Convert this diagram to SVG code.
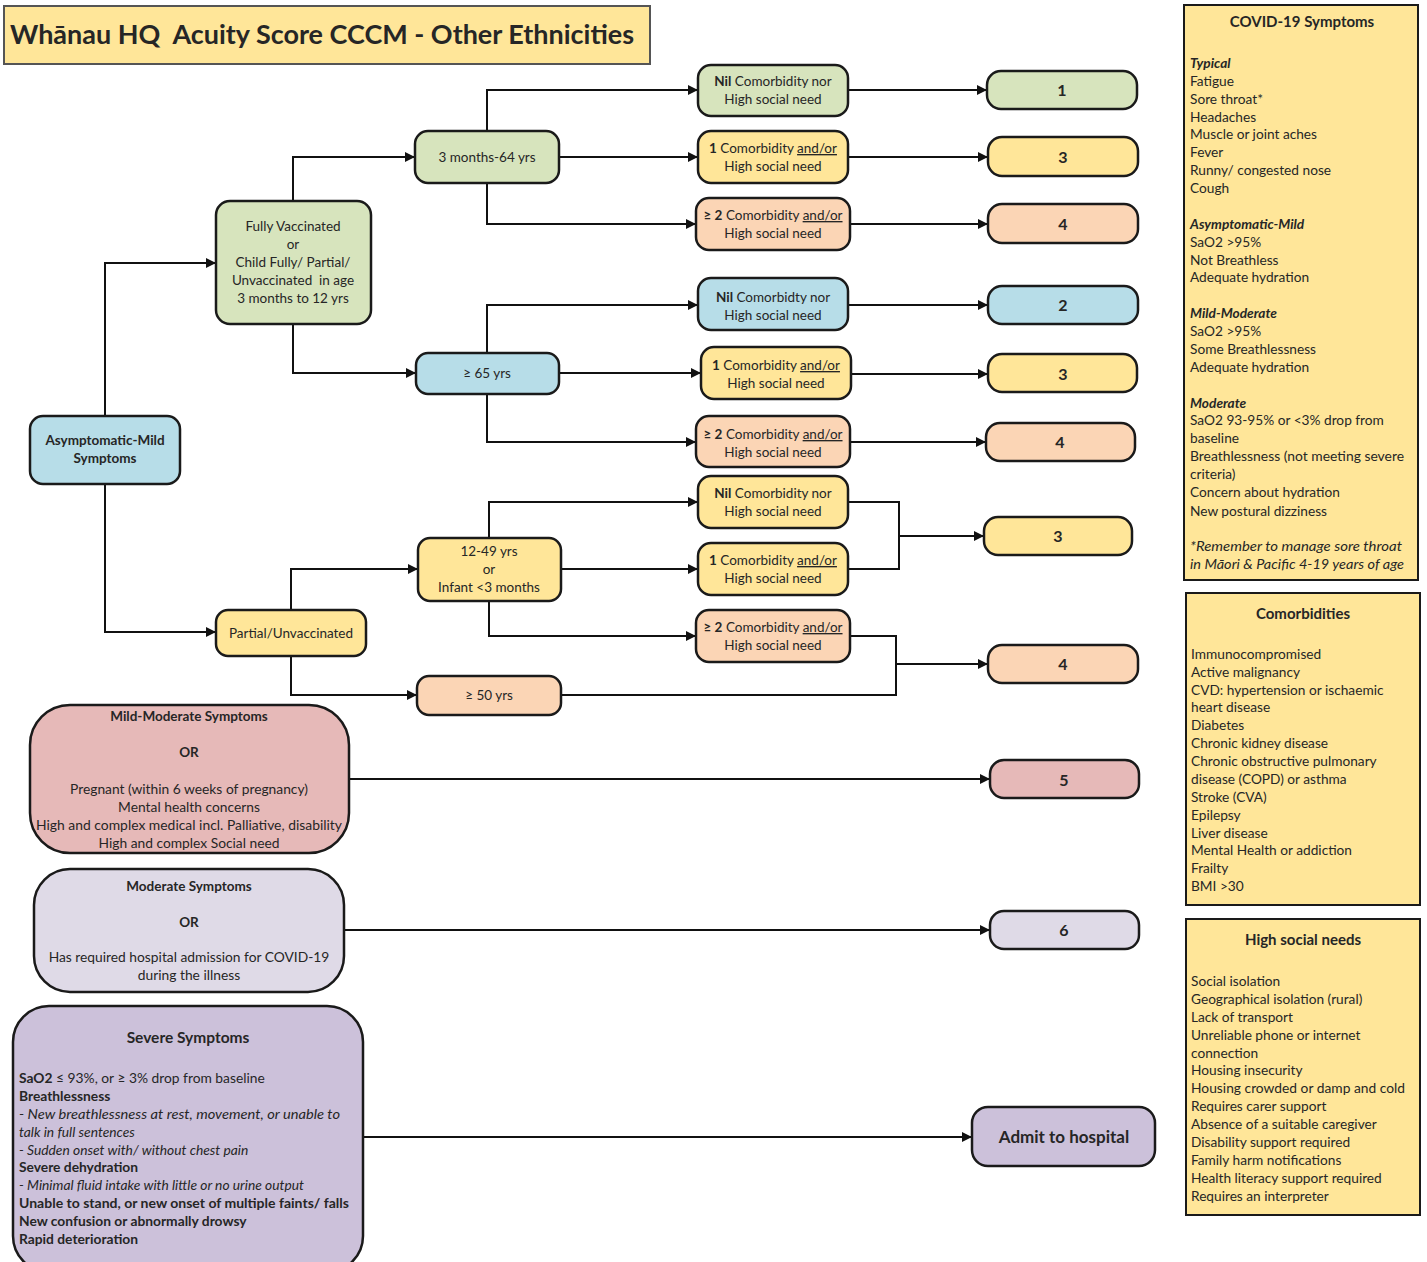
<svg xmlns="http://www.w3.org/2000/svg" width="1427" height="1262" viewBox="0 0 1427 1262">
<style>
text{font-family:Lato,"Liberation Sans",sans-serif;fill:#262626;font-size:13.5px}
.c{text-anchor:middle}
.b{font-weight:bold}
.n{stroke:#1a1a1a;stroke-width:2.5}
.g{fill:#D7E4BD}.y{fill:#FFE699}.p{fill:#FBD5B5}.bl{fill:#B7DDE8}.pk{fill:#E6B9B8}.lv{fill:#DFDAE7}.pu{fill:#CCC1DA}
.sc{font-size:16px;font-weight:bold}
.pn{fill:#FFE699;stroke:#1a1a1a;stroke-width:2}
.pt{font-size:13.7px}
.bx{font-size:13.8px}
.u{text-decoration:underline}
.bi{font-weight:bold;font-style:italic}
.it{font-style:italic}
#conn path{fill:none;stroke:#111;stroke-width:2}
</style>
<defs>
<marker id="ah" viewBox="0 0 10 10" refX="10" refY="5" markerWidth="10" markerHeight="10" markerUnits="userSpaceOnUse" orient="auto">
<path d="M0,0 L10,5 L0,10 z" fill="#111"/>
</marker>
</defs>
<rect width="1427" height="1262" fill="#fff"/>

<g id="title">
<rect x="4" y="6" width="646" height="58" fill="#FFE699" stroke="#555" stroke-width="2"/>
<text x="10" y="44" class="b" style="font-size:26px;white-space:pre" xml:space="preserve" textLength="624" lengthAdjust="spacingAndGlyphs">Whānau HQ  Acuity Score CCCM - Other Ethnicities</text>
</g>

<g id="conn">
<path d="M105,416 V263 H216" marker-end="url(#ah)"/>
<path d="M105,484 V632 H216" marker-end="url(#ah)"/>
<path d="M293,201 V157 H415" marker-end="url(#ah)"/>
<path d="M293,324 V373 H416" marker-end="url(#ah)"/>
<path d="M487,131 V90 H698" marker-end="url(#ah)"/>
<path d="M559,157 H698" marker-end="url(#ah)"/>
<path d="M487,183 V224 H696" marker-end="url(#ah)"/>
<path d="M487,353 V305 H698" marker-end="url(#ah)"/>
<path d="M559,373 H701" marker-end="url(#ah)"/>
<path d="M487,394 V442 H696" marker-end="url(#ah)"/>
<path d="M291,610 V569 H418" marker-end="url(#ah)"/>
<path d="M291,656 V695 H417" marker-end="url(#ah)"/>
<path d="M489,538 V502 H698" marker-end="url(#ah)"/>
<path d="M561,569 H698" marker-end="url(#ah)"/>
<path d="M489,601 V636 H696" marker-end="url(#ah)"/>
<path d="M848,90 H987" marker-end="url(#ah)"/>
<path d="M848,157 H988" marker-end="url(#ah)"/>
<path d="M850,224 H988" marker-end="url(#ah)"/>
<path d="M848,305 H988" marker-end="url(#ah)"/>
<path d="M851,374 H988" marker-end="url(#ah)"/>
<path d="M850,442 H986" marker-end="url(#ah)"/>
<path d="M848,502 H899 V569 H848"/>
<path d="M899,536 H984" marker-end="url(#ah)"/>
<path d="M850,636 H896 V695 H561"/>
<path d="M896,664 H988" marker-end="url(#ah)"/>
<path d="M349,779 H990" marker-end="url(#ah)"/>
<path d="M344,930 H990" marker-end="url(#ah)"/>
<path d="M363,1137 H972" marker-end="url(#ah)"/>
</g>

<g id="asym">
<rect x="30" y="416" width="150" height="68" rx="13" class="n bl"/>
<text x="105" y="445" class="c b">Asymptomatic-Mild</text>
<text x="105" y="463" class="c b">Symptoms</text>
</g>
<g id="fully">
<rect x="216" y="201" width="155" height="123" rx="14" class="n g"/>
<text x="293" y="231" class="c">Fully Vaccinated</text>
<text x="293" y="249" class="c">or</text>
<text x="293" y="267" class="c">Child Fully/ Partial/</text>
<text x="293" y="285" class="c" style="white-space:pre" xml:space="preserve">Unvaccinated  in age</text>
<text x="293" y="303" class="c">3 months to 12 yrs</text>
</g>
<g id="m364">
<rect x="415" y="131" width="144" height="52" rx="13" class="n g"/>
<text x="487" y="162" class="c">3 months-64 yrs</text>
</g>
<g id="ge65">
<rect x="416" y="353" width="143" height="41" rx="12" class="n bl"/>
<text x="487" y="378" class="c">≥ 65 yrs</text>
</g>
<g id="partial">
<rect x="216" y="610" width="150" height="46" rx="12" class="n y"/>
<text x="291" y="638" class="c">Partial/Unvaccinated</text>
</g>
<g id="y1249">
<rect x="418" y="538" width="143" height="63" rx="12" class="n y"/>
<text x="489" y="556" class="c">12-49 yrs</text>
<text x="489" y="574" class="c">or</text>
<text x="489" y="592" class="c">Infant &lt;3 months</text>
</g>
<g id="ge50">
<rect x="417" y="676" width="144" height="39" rx="12" class="n p"/>
<text x="489" y="700" class="c">≥ 50 yrs</text>
</g>

<g id="c1">
<rect x="698" y="65" width="150" height="51" rx="13" class="n g"/>
<text x="773" y="86" class="c"><tspan class="b">Nil</tspan> Comorbidity nor</text>
<text x="773" y="104" class="c">High social need</text>
</g>
<g id="c2">
<rect x="698" y="131" width="150" height="52" rx="13" class="n y"/>
<text x="773" y="153" class="c"><tspan class="b">1</tspan> Comorbidity <tspan class="u">and/or</tspan></text>
<text x="773" y="171" class="c">High social need</text>
</g>
<g id="c3">
<rect x="696" y="198" width="154" height="52" rx="13" class="n p"/>
<text x="773" y="220" class="c"><tspan class="b">≥ 2</tspan> Comorbidity <tspan class="u">and/or</tspan></text>
<text x="773" y="238" class="c">High social need</text>
</g>
<g id="c4">
<rect x="698" y="278" width="150" height="52" rx="13" class="n bl"/>
<text x="773" y="302" class="c"><tspan class="b">Nil</tspan> Comorbidty nor</text>
<text x="773" y="320" class="c">High social need</text>
</g>
<g id="c5">
<rect x="701" y="347" width="150" height="52" rx="13" class="n y"/>
<text x="776" y="370" class="c"><tspan class="b">1</tspan> Comorbidity <tspan class="u">and/or</tspan></text>
<text x="776" y="388" class="c">High social need</text>
</g>
<g id="c6">
<rect x="696" y="416" width="154" height="51" rx="13" class="n p"/>
<text x="773" y="439" class="c"><tspan class="b">≥ 2</tspan> Comorbidity <tspan class="u">and/or</tspan></text>
<text x="773" y="457" class="c">High social need</text>
</g>
<g id="c7">
<rect x="698" y="476" width="150" height="52" rx="13" class="n y"/>
<text x="773" y="498" class="c"><tspan class="b">Nil</tspan> Comorbidity nor</text>
<text x="773" y="516" class="c">High social need</text>
</g>
<g id="c8">
<rect x="698" y="543" width="150" height="52" rx="13" class="n y"/>
<text x="773" y="565" class="c"><tspan class="b">1</tspan> Comorbidity <tspan class="u">and/or</tspan></text>
<text x="773" y="583" class="c">High social need</text>
</g>
<g id="c9">
<rect x="696" y="610" width="154" height="52" rx="13" class="n p"/>
<text x="773" y="632" class="c"><tspan class="b">≥ 2</tspan> Comorbidity <tspan class="u">and/or</tspan></text>
<text x="773" y="650" class="c">High social need</text>
</g>

<g id="s1"><rect x="987" y="71" width="150" height="38" rx="14" class="n g"/><text x="1062" y="96" class="c sc">1</text></g>
<g id="s3a"><rect x="988" y="137" width="150" height="39" rx="14" class="n y"/><text x="1063" y="163" class="c sc">3</text></g>
<g id="s4a"><rect x="988" y="204" width="150" height="39" rx="14" class="n p"/><text x="1063" y="230" class="c sc">4</text></g>
<g id="s2"><rect x="988" y="286" width="150" height="38" rx="14" class="n bl"/><text x="1063" y="311" class="c sc">2</text></g>
<g id="s3b"><rect x="988" y="354" width="149" height="38" rx="14" class="n y"/><text x="1063" y="380" class="c sc">3</text></g>
<g id="s4b"><rect x="986" y="423" width="149" height="38" rx="14" class="n p"/><text x="1060" y="448" class="c sc">4</text></g>
<g id="s3c"><rect x="984" y="517" width="148" height="38" rx="14" class="n y"/><text x="1058" y="542" class="c sc">3</text></g>
<g id="s4c"><rect x="988" y="645" width="150" height="38" rx="14" class="n p"/><text x="1063" y="670" class="c sc">4</text></g>
<g id="s5"><rect x="990" y="760" width="149" height="38" rx="14" class="n pk"/><text x="1064" y="786" class="c sc">5</text></g>
<g id="s6"><rect x="990" y="911" width="149" height="38" rx="14" class="n lv"/><text x="1064" y="936" class="c sc">6</text></g>
<g id="admit"><rect x="972" y="1107" width="183" height="59" rx="16" class="n pu"/><text x="1064" y="1143" class="c b" style="font-size:17px">Admit to hospital</text></g>

<g id="mildmod">
<rect x="30" y="705" width="319" height="148" rx="40" class="n pk"/>
<text x="189" y="721" class="c b">Mild-Moderate Symptoms</text>
<text x="189" y="757" class="c b">OR</text>
<text x="189" y="794" class="c bx">Pregnant (within 6 weeks of pregnancy)</text>
<text x="189" y="812" class="c bx">Mental health concerns</text>
<text x="189" y="830" class="c bx" textLength="306" lengthAdjust="spacingAndGlyphs">High and complex medical incl. Palliative, disability</text>
<text x="189" y="848" class="c bx">High and complex Social need</text>
</g>
<g id="moderate">
<rect x="34" y="869" width="310" height="123" rx="36" class="n lv"/>
<text x="189" y="891" class="c b">Moderate Symptoms</text>
<text x="189" y="927" class="c b">OR</text>
<text x="189" y="962" class="c bx">Has required hospital admission for COVID-19</text>
<text x="189" y="980" class="c bx">during the illness</text>
</g>
<g id="severe">
<rect x="13" y="1006" width="350" height="266" rx="36" class="n pu"/>
<text x="188" y="1043" class="c b" style="font-size:15.5px">Severe Symptoms</text>
<g>
<text x="19" y="1083" class="bx"><tspan class="b">SaO2</tspan> ≤ 93%, or ≥ 3% drop from baseline</text>
<text x="19" y="1101" class="b bx">Breathlessness</text>
<text x="19" y="1119" class="it bx" textLength="321" lengthAdjust="spacingAndGlyphs">- New breathlessness at rest, movement, or unable to</text>
<text x="19" y="1137" class="it bx">talk in full sentences</text>
<text x="19" y="1155" class="it bx">- Sudden onset with/ without chest pain</text>
<text x="19" y="1172" class="b bx">Severe dehydration</text>
<text x="19" y="1190" class="it bx">- Minimal fluid intake with little or no urine output</text>
<text x="19" y="1208" class="b bx" textLength="330" lengthAdjust="spacingAndGlyphs">Unable to stand, or new onset of multiple faints/ falls</text>
<text x="19" y="1226" class="b bx">New confusion or abnormally drowsy</text>
<text x="19" y="1244" class="b bx">Rapid deterioration</text>
</g>
</g>

<g id="covid">
<rect x="1184" y="5" width="234" height="575" class="pn"/>
<text x="1302" y="27" class="c b" style="font-size:15px">COVID-19 Symptoms</text>
<text x="1190" y="68" class="bi pt">Typical</text>
<text x="1190" y="86" class="pt">Fatigue</text>
<text x="1190" y="104" class="pt">Sore throat*</text>
<text x="1190" y="122" class="pt">Headaches</text>
<text x="1190" y="139" class="pt">Muscle or joint aches</text>
<text x="1190" y="157" class="pt">Fever</text>
<text x="1190" y="175" class="pt">Runny/ congested nose</text>
<text x="1190" y="193" class="pt">Cough</text>
<text x="1190" y="229" class="bi pt">Asymptomatic-Mild</text>
<text x="1190" y="247" class="pt">SaO2 &gt;95%</text>
<text x="1190" y="265" class="pt">Not Breathless</text>
<text x="1190" y="282" class="pt">Adequate hydration</text>
<text x="1190" y="318" class="bi pt">Mild-Moderate</text>
<text x="1190" y="336" class="pt">SaO2 &gt;95%</text>
<text x="1190" y="354" class="pt">Some Breathlessness</text>
<text x="1190" y="372" class="pt">Adequate hydration</text>
<text x="1190" y="408" class="bi pt">Moderate</text>
<text x="1190" y="425" class="pt">SaO2 93-95% or &lt;3% drop from</text>
<text x="1190" y="443" class="pt">baseline</text>
<text x="1190" y="461" class="pt" textLength="214" lengthAdjust="spacingAndGlyphs">Breathlessness (not meeting severe</text>
<text x="1190" y="479" class="pt">criteria)</text>
<text x="1190" y="497" class="pt">Concern about hydration</text>
<text x="1190" y="516" class="pt">New postural dizziness</text>
<text x="1190" y="551" class="it pt" textLength="212" lengthAdjust="spacingAndGlyphs">*Remember to manage sore throat</text>
<text x="1190" y="569" class="it pt" textLength="214" lengthAdjust="spacingAndGlyphs">in Māori &amp; Pacific 4-19 years of age</text>
</g>

<g id="comorb">
<rect x="1186" y="593" width="234" height="312" class="pn"/>
<text x="1303" y="619" class="c b" style="font-size:15px">Comorbidities</text>
<text x="1191" y="659" class="pt">Immunocompromised</text>
<text x="1191" y="677" class="pt">Active malignancy</text>
<text x="1191" y="695" class="pt">CVD: hypertension or ischaemic</text>
<text x="1191" y="712" class="pt">heart disease</text>
<text x="1191" y="730" class="pt">Diabetes</text>
<text x="1191" y="748" class="pt">Chronic kidney disease</text>
<text x="1191" y="766" class="pt">Chronic obstructive pulmonary</text>
<text x="1191" y="784" class="pt">disease (COPD) or asthma</text>
<text x="1191" y="802" class="pt">Stroke (CVA)</text>
<text x="1191" y="820" class="pt">Epilepsy</text>
<text x="1191" y="838" class="pt">Liver disease</text>
<text x="1191" y="855" class="pt">Mental Health or addiction</text>
<text x="1191" y="873" class="pt">Frailty</text>
<text x="1191" y="891" class="pt">BMI &gt;30</text>
</g>

<g id="social">
<rect x="1186" y="919" width="234" height="296" class="pn"/>
<text x="1303" y="945" class="c b" style="font-size:15px">High social needs</text>
<text x="1191" y="986" class="pt">Social isolation</text>
<text x="1191" y="1004" class="pt">Geographical isolation (rural)</text>
<text x="1191" y="1022" class="pt">Lack of transport</text>
<text x="1191" y="1040" class="pt">Unreliable phone or internet</text>
<text x="1191" y="1058" class="pt">connection</text>
<text x="1191" y="1075" class="pt">Housing insecurity</text>
<text x="1191" y="1093" class="pt" textLength="214" lengthAdjust="spacingAndGlyphs">Housing crowded or damp and cold</text>
<text x="1191" y="1111" class="pt">Requires carer support</text>
<text x="1191" y="1129" class="pt">Absence of a suitable caregiver</text>
<text x="1191" y="1147" class="pt">Disability support required</text>
<text x="1191" y="1165" class="pt">Family harm notifications</text>
<text x="1191" y="1183" class="pt">Health literacy support required</text>
<text x="1191" y="1201" class="pt">Requires an interpreter</text>
</g>
</svg>
